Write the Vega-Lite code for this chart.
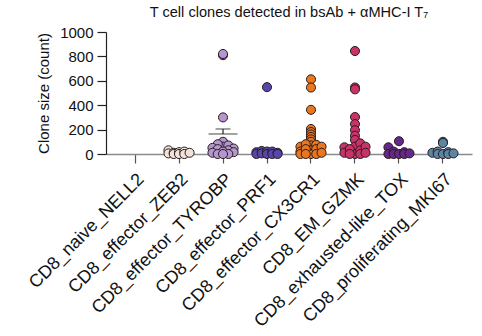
{
  "$schema": "https://vega.github.io/schema/vega-lite/v6.json",
  "autosize": "none",
  "width": 366,
  "height": 122,
  "padding": {"left": 106, "top": 32, "right": 10, "bottom": 182},
  "background": "white",
  "config": {
    "view": {"stroke": null},
    "font": "Liberation Sans",
    "axis": {"grid": false, "labelFont": "Liberation Sans", "titleFont": "Liberation Sans", "labelColor": "#111", "titleColor": "#111", "titleFontWeight": "normal"},
    "axisY": {
      "values": [0, 200, 400, 600, 800, 1000],
      "format": "d",
      "labelOverlap": false,
      "labelFontSize": 15,
      "labelPadding": 4,
      "titleFontSize": 15,
      "titlePadding": 8,
      "domainColor": "#222",
      "domainWidth": 1.2,
      "tickColor": "#222",
      "tickSize": 9,
      "tickWidth": 1.2
    },
    "axisX": {
      "labelAngle": -45,
      "labelFontSize": 18,
      "labelPadding": 7,
      "labelLimit": 0,
      "labelOverlap": false,
      "domainColor": "#8a8a8a",
      "domainWidth": 1.5,
      "tickColor": "#555",
      "tickSize": 9,
      "tickWidth": 1.2
    }
  },
  "title": {"text": "T cell clones detected in bsAb + αMHC-I T₇", "fontSize": 14.6, "fontWeight": "normal", "color": "#111", "anchor": "middle", "offset": 5, "font": "Liberation Sans"},
  "datasets": {
    "clones": [
      {"cluster": "CD8_effector_ZEB2", "clone_size": 30, "rep": 1},
      {"cluster": "CD8_effector_ZEB2", "clone_size": 5, "rep": 1},
      {"cluster": "CD8_effector_ZEB2", "clone_size": 10, "rep": 2},
      {"cluster": "CD8_effector_ZEB2", "clone_size": 0, "rep": 2},
      {"cluster": "CD8_effector_ZEB2", "clone_size": 15, "rep": 3},
      {"cluster": "CD8_effector_ZEB2", "clone_size": 0, "rep": 3},
      {"cluster": "CD8_effector_ZEB2", "clone_size": 20, "rep": 4},
      {"cluster": "CD8_effector_ZEB2", "clone_size": 0, "rep": 4},
      {"cluster": "CD8_effector_ZEB2", "clone_size": 10, "rep": 5},

      {"cluster": "CD8_effector_TYROBP", "clone_size": 100, "rep": 3},
      {"cluster": "CD8_effector_TYROBP", "clone_size": 60, "rep": 3},
      {"cluster": "CD8_effector_TYROBP", "clone_size": 80, "rep": 2},
      {"cluster": "CD8_effector_TYROBP", "clone_size": 70, "rep": 4},
      {"cluster": "CD8_effector_TYROBP", "clone_size": 50, "rep": 1},
      {"cluster": "CD8_effector_TYROBP", "clone_size": 45, "rep": 5},
      {"cluster": "CD8_effector_TYROBP", "clone_size": 40, "rep": 2},
      {"cluster": "CD8_effector_TYROBP", "clone_size": 30, "rep": 4},
      {"cluster": "CD8_effector_TYROBP", "clone_size": 20, "rep": 3},
      {"cluster": "CD8_effector_TYROBP", "clone_size": 10, "rep": 1},
      {"cluster": "CD8_effector_TYROBP", "clone_size": 15, "rep": 5},
      {"cluster": "CD8_effector_TYROBP", "clone_size": 0, "rep": 2},
      {"cluster": "CD8_effector_TYROBP", "clone_size": 0, "rep": 4},
      {"cluster": "CD8_effector_TYROBP", "clone_size": 0, "rep": 3},
      {"cluster": "CD8_effector_TYROBP", "clone_size": 300, "rep": 3},
      {"cluster": "CD8_effector_TYROBP", "clone_size": 810, "rep": 3},
      {"cluster": "CD8_effector_TYROBP", "clone_size": 820, "rep": 3},

      {"cluster": "CD8_effector_PRF1", "clone_size": 548, "rep": 3},
      {"cluster": "CD8_effector_PRF1", "clone_size": 15, "rep": 1},
      {"cluster": "CD8_effector_PRF1", "clone_size": 0, "rep": 1},
      {"cluster": "CD8_effector_PRF1", "clone_size": 25, "rep": 2},
      {"cluster": "CD8_effector_PRF1", "clone_size": 5, "rep": 2},
      {"cluster": "CD8_effector_PRF1", "clone_size": 20, "rep": 3},
      {"cluster": "CD8_effector_PRF1", "clone_size": 0, "rep": 3},
      {"cluster": "CD8_effector_PRF1", "clone_size": 20, "rep": 4},
      {"cluster": "CD8_effector_PRF1", "clone_size": 0, "rep": 4},
      {"cluster": "CD8_effector_PRF1", "clone_size": 10, "rep": 5},
      {"cluster": "CD8_effector_PRF1", "clone_size": 0, "rep": 5},

      {"cluster": "CD8_effector_CX3CR1", "clone_size": 612, "rep": 3},
      {"cluster": "CD8_effector_CX3CR1", "clone_size": 545, "rep": 3},
      {"cluster": "CD8_effector_CX3CR1", "clone_size": 362, "rep": 3},
      {"cluster": "CD8_effector_CX3CR1", "clone_size": 205, "rep": 3},
      {"cluster": "CD8_effector_CX3CR1", "clone_size": 180, "rep": 3},
      {"cluster": "CD8_effector_CX3CR1", "clone_size": 160, "rep": 3},
      {"cluster": "CD8_effector_CX3CR1", "clone_size": 140, "rep": 3},
      {"cluster": "CD8_effector_CX3CR1", "clone_size": 120, "rep": 3},
      {"cluster": "CD8_effector_CX3CR1", "clone_size": 100, "rep": 3},
      {"cluster": "CD8_effector_CX3CR1", "clone_size": 70, "rep": 3},
      {"cluster": "CD8_effector_CX3CR1", "clone_size": 30, "rep": 3},
      {"cluster": "CD8_effector_CX3CR1", "clone_size": 0, "rep": 3},
      {"cluster": "CD8_effector_CX3CR1", "clone_size": 60, "rep": 1},
      {"cluster": "CD8_effector_CX3CR1", "clone_size": 20, "rep": 1},
      {"cluster": "CD8_effector_CX3CR1", "clone_size": 0, "rep": 1},
      {"cluster": "CD8_effector_CX3CR1", "clone_size": 80, "rep": 2},
      {"cluster": "CD8_effector_CX3CR1", "clone_size": 40, "rep": 2},
      {"cluster": "CD8_effector_CX3CR1", "clone_size": 0, "rep": 2},
      {"cluster": "CD8_effector_CX3CR1", "clone_size": 75, "rep": 4},
      {"cluster": "CD8_effector_CX3CR1", "clone_size": 40, "rep": 4},
      {"cluster": "CD8_effector_CX3CR1", "clone_size": 0, "rep": 4},
      {"cluster": "CD8_effector_CX3CR1", "clone_size": 60, "rep": 5},
      {"cluster": "CD8_effector_CX3CR1", "clone_size": 10, "rep": 5},

      {"cluster": "CD8_EM_GZMK", "clone_size": 844, "rep": 3},
      {"cluster": "CD8_EM_GZMK", "clone_size": 545, "rep": 3},
      {"cluster": "CD8_EM_GZMK", "clone_size": 530, "rep": 3},
      {"cluster": "CD8_EM_GZMK", "clone_size": 303, "rep": 3},
      {"cluster": "CD8_EM_GZMK", "clone_size": 245, "rep": 3},
      {"cluster": "CD8_EM_GZMK", "clone_size": 195, "rep": 3},
      {"cluster": "CD8_EM_GZMK", "clone_size": 150, "rep": 3},
      {"cluster": "CD8_EM_GZMK", "clone_size": 115, "rep": 3},
      {"cluster": "CD8_EM_GZMK", "clone_size": 60, "rep": 3},
      {"cluster": "CD8_EM_GZMK", "clone_size": 0, "rep": 3},
      {"cluster": "CD8_EM_GZMK", "clone_size": 55, "rep": 1},
      {"cluster": "CD8_EM_GZMK", "clone_size": 10, "rep": 1},
      {"cluster": "CD8_EM_GZMK", "clone_size": 40, "rep": 2},
      {"cluster": "CD8_EM_GZMK", "clone_size": 0, "rep": 2},
      {"cluster": "CD8_EM_GZMK", "clone_size": 87, "rep": 4},
      {"cluster": "CD8_EM_GZMK", "clone_size": 30, "rep": 4},
      {"cluster": "CD8_EM_GZMK", "clone_size": 0, "rep": 4},
      {"cluster": "CD8_EM_GZMK", "clone_size": 60, "rep": 5},
      {"cluster": "CD8_EM_GZMK", "clone_size": 10, "rep": 5},

      {"cluster": "CD8_exhausted-like_TOX", "clone_size": 105, "rep": 3},
      {"cluster": "CD8_exhausted-like_TOX", "clone_size": 55, "rep": 1},
      {"cluster": "CD8_exhausted-like_TOX", "clone_size": 0, "rep": 1},
      {"cluster": "CD8_exhausted-like_TOX", "clone_size": 20, "rep": 2},
      {"cluster": "CD8_exhausted-like_TOX", "clone_size": 0, "rep": 2},
      {"cluster": "CD8_exhausted-like_TOX", "clone_size": 0, "rep": 3},
      {"cluster": "CD8_exhausted-like_TOX", "clone_size": 15, "rep": 4},
      {"cluster": "CD8_exhausted-like_TOX", "clone_size": 0, "rep": 4},
      {"cluster": "CD8_exhausted-like_TOX", "clone_size": 5, "rep": 5},

      {"cluster": "CD8_proliferating_MKI67", "clone_size": 100, "rep": 3},
      {"cluster": "CD8_proliferating_MKI67", "clone_size": 90, "rep": 3},
      {"cluster": "CD8_proliferating_MKI67", "clone_size": 10, "rep": 1},
      {"cluster": "CD8_proliferating_MKI67", "clone_size": 20, "rep": 2},
      {"cluster": "CD8_proliferating_MKI67", "clone_size": 0, "rep": 2},
      {"cluster": "CD8_proliferating_MKI67", "clone_size": 0, "rep": 3},
      {"cluster": "CD8_proliferating_MKI67", "clone_size": 15, "rep": 4},
      {"cluster": "CD8_proliferating_MKI67", "clone_size": 0, "rep": 4},
      {"cluster": "CD8_proliferating_MKI67", "clone_size": 5, "rep": 5}
    ],
    "summary": [
      {"cluster": "CD8_effector_TYROBP", "mean": 164, "sem_upper": 205}
    ]
  },
  "layer": [
    {
      "data": {"name": "summary"},
      "mark": {"type": "rule", "color": "#222", "strokeWidth": 1.2},
      "encoding": {
        "x": {"field": "cluster", "type": "nominal", "title": null},
        "y": {"field": "mean", "type": "quantitative", "title": "Clone size (count)"},
        "y2": {"field": "sem_upper"}
      }
    },
    {
      "data": {"name": "summary"},
      "mark": {"type": "tick", "color": "#222", "size": 15, "thickness": 1.2},
      "encoding": {
        "x": {"field": "cluster", "type": "nominal", "title": null},
        "y": {"field": "sem_upper", "type": "quantitative", "title": "Clone size (count)"}
      }
    },
    {
      "data": {"name": "summary"},
      "mark": {"type": "tick", "color": "#222", "size": 29, "thickness": 1.2},
      "encoding": {
        "x": {"field": "cluster", "type": "nominal", "title": null},
        "y": {"field": "mean", "type": "quantitative", "title": "Clone size (count)"}
      }
    },
    {
      "data": {"name": "clones"},
      "mark": {"type": "point", "filled": true, "shape": "circle", "size": 82, "stroke": "#2a1c1c", "strokeWidth": 1, "opacity": 1},
      "encoding": {
        "x": {
          "field": "cluster", "type": "nominal", "title": null,
          "scale": {
            "type": "band",
            "domain": ["CD8_naive_NELL2", "CD8_effector_ZEB2", "CD8_effector_TYROBP", "CD8_effector_PRF1", "CD8_effector_CX3CR1", "CD8_EM_GZMK", "CD8_exhausted-like_TOX", "CD8_proliferating_MKI67"],
            "paddingInner": 0.52,
            "paddingOuter": 0.42
          }
        },
        "xOffset": {"field": "rep", "type": "nominal", "scale": {"paddingInner": 0, "paddingOuter": 0}},
        "y": {
          "field": "clone_size", "type": "quantitative", "title": "Clone size (count)",
          "scale": {"domain": [0, 1000], "nice": false}
        },
        "color": {
          "field": "cluster", "type": "nominal", "legend": null,
          "scale": {
            "domain": ["CD8_naive_NELL2", "CD8_effector_ZEB2", "CD8_effector_TYROBP", "CD8_effector_PRF1", "CD8_effector_CX3CR1", "CD8_EM_GZMK", "CD8_exhausted-like_TOX", "CD8_proliferating_MKI67"],
            "range": ["#9a9a9a", "#f0e4da", "#b496d0", "#5846ad", "#e8771f", "#c8336a", "#63288a", "#5a86a6"]
          }
        }
      }
    }
  ]
}
